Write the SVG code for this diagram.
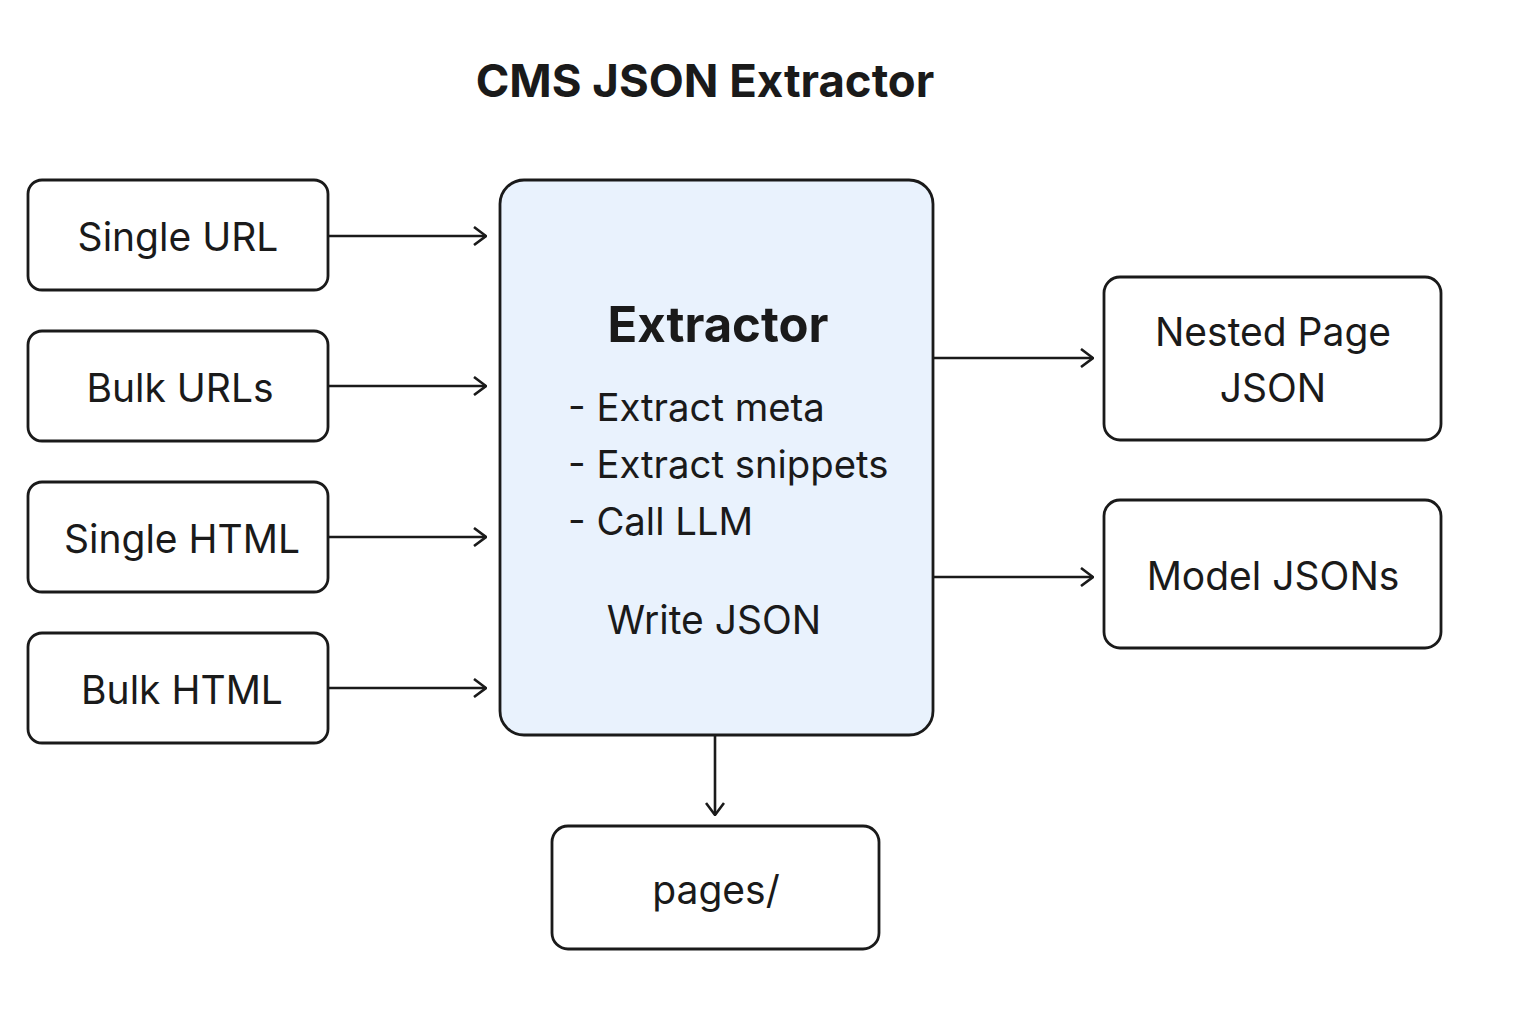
<svg xmlns="http://www.w3.org/2000/svg" width="1536" height="1024" viewBox="0 0 1536 1024">
<style>
.box{fill:#fff;stroke:#1a1a1a;stroke-width:2.8}
.main{fill:#e9f2fd;stroke:#1a1a1a;stroke-width:2.8}
.t{font-family:Inter,"Noto Sans","DejaVu Sans",sans-serif;font-size:39px;fill:#1a1a1a}
.c{text-anchor:middle}
.b{font-weight:bold}
.conn{stroke:#1a1a1a;stroke-width:2.6;fill:none}
</style>
<defs>
<marker id="ah" viewBox="0 0 14 20" refX="13" refY="10" markerWidth="14" markerHeight="20" markerUnits="userSpaceOnUse" orient="auto">
<path d="M1,1 L13,10 L1,19" fill="none" stroke="#1a1a1a" stroke-width="2.6"/>
</marker>
</defs>
<rect width="1536" height="1024" fill="#fff"/>
<text class="t c b" x="705" y="97" style="font-size:45.5px">CMS JSON Extractor</text>
<g id="single-url"><rect class="box" x="28" y="180" width="300" height="110" rx="14"/><text class="t c" x="178" y="251">Single URL</text></g>
<g id="bulk-urls"><rect class="box" x="28" y="331" width="300" height="110" rx="14"/><text class="t c" x="180" y="402">Bulk URLs</text></g>
<g id="single-html"><rect class="box" x="28" y="482" width="300" height="110" rx="14"/><text class="t c" x="182" y="553">Single HTML</text></g>
<g id="bulk-html"><rect class="box" x="28" y="633" width="300" height="110" rx="14"/><text class="t c" x="182" y="704">Bulk HTML</text></g>
<g id="extractor">
<rect class="main" x="500" y="180" width="433" height="555" rx="24"/>
<text class="t c b" x="718" y="342" style="font-size:49px">Extractor</text>
<text class="t" x="568" y="421" style="font-size:38.3px">- Extract meta</text>
<text class="t" x="568" y="478" style="font-size:38.3px">- Extract snippets</text>
<text class="t" x="568" y="535" style="font-size:38.3px">- Call LLM</text>
<text class="t c" x="714" y="634">Write JSON</text>
</g>
<g id="nested-page-json"><rect class="box" x="1104" y="277" width="337" height="163" rx="16"/><text class="t c" x="1273" y="346">Nested Page</text><text class="t c" x="1273" y="402">JSON</text></g>
<g id="model-jsons"><rect class="box" x="1104" y="500" width="337" height="148" rx="16"/><text class="t c" x="1273" y="590">Model JSONs</text></g>
<g id="pages"><rect class="box" x="552" y="826" width="327" height="123" rx="16"/><text class="t c" x="716" y="904">pages/</text></g>
<g id="connectors">
<line class="conn" x1="329" y1="236" x2="486" y2="236" marker-end="url(#ah)"/>
<line class="conn" x1="329" y1="386" x2="486" y2="386" marker-end="url(#ah)"/>
<line class="conn" x1="329" y1="537" x2="486" y2="537" marker-end="url(#ah)"/>
<line class="conn" x1="329" y1="688" x2="486" y2="688" marker-end="url(#ah)"/>
<line class="conn" x1="934" y1="358" x2="1093" y2="358" marker-end="url(#ah)"/>
<line class="conn" x1="934" y1="577" x2="1093" y2="577" marker-end="url(#ah)"/>
<line class="conn" x1="715" y1="736" x2="715" y2="815" marker-end="url(#ah)"/>
</g>
</svg>
